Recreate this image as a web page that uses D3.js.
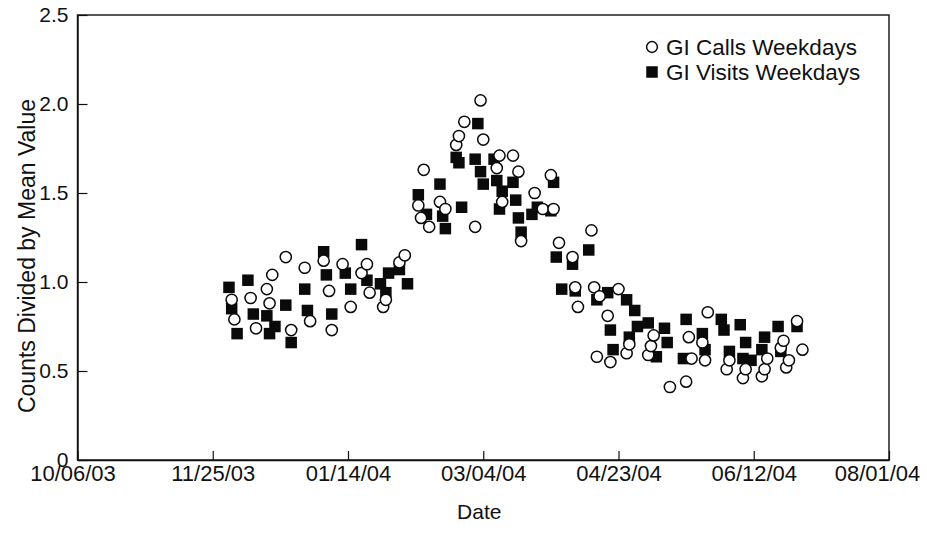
<!DOCTYPE html>
<html>
<head>
<meta charset="utf-8">
<script src="https://cdn.jsdelivr.net/npm/d3@7/dist/d3.min.js"></script>
<style>
  html, body { margin: 0; padding: 0; background: #fff; }
  svg text { font-family: "Liberation Sans", Arial, Helvetica, sans-serif; fill: #111; }
</style>
</head>
<body>
<svg id="chart" width="927" height="548"></svg>
<script>
// GI calls, weekdays: date and count divided by mean value
const callDates = [
  "2003-12-02","2003-12-03","2003-12-09","2003-12-11","2003-12-15","2003-12-16","2003-12-17",
  "2003-12-22","2003-12-24","2003-12-29","2003-12-31","2004-01-05","2004-01-07","2004-01-08",
  "2004-01-12","2004-01-15","2004-01-19","2004-01-21","2004-01-22","2004-01-27","2004-01-28",
  "2004-02-02","2004-02-04","2004-02-09","2004-02-10","2004-02-11","2004-02-13","2004-02-17",
  "2004-02-19","2004-02-23","2004-02-24","2004-02-26","2004-03-01","2004-03-03","2004-03-04",
  "2004-03-09","2004-03-10","2004-03-11","2004-03-15","2004-03-17","2004-03-18","2004-03-23",
  "2004-03-26","2004-03-29","2004-03-30","2004-04-01","2004-04-06","2004-04-07","2004-04-08",
  "2004-04-13","2004-04-14","2004-04-15","2004-04-16","2004-04-19","2004-04-20","2004-04-23",
  "2004-04-26","2004-04-27","2004-05-04","2004-05-05","2004-05-06","2004-05-12","2004-05-18",
  "2004-05-19","2004-05-20","2004-05-24","2004-05-25","2004-05-26","2004-06-02","2004-06-03",
  "2004-06-08","2004-06-09","2004-06-15","2004-06-16","2004-06-17","2004-06-22","2004-06-23",
  "2004-06-24","2004-06-25","2004-06-28","2004-06-30"
];
const callValues = [
  0.90,0.79,0.91,0.74,0.96,0.88,1.04,
  1.14,0.73,1.08,0.78,1.12,0.95,0.73,
  1.10,0.86,1.05,1.10,0.94,0.86,0.90,
  1.11,1.15,1.43,1.36,1.63,1.31,1.45,
  1.41,1.77,1.82,1.90,1.31,2.02,1.80,
  1.64,1.71,1.45,1.71,1.62,1.23,1.50,
  1.41,1.60,1.41,1.22,1.14,0.97,0.86,
  1.29,0.97,0.58,0.92,0.81,0.55,0.96,
  0.60,0.65,0.59,0.64,0.70,0.41,0.44,
  0.69,0.57,0.66,0.56,0.83,0.51,0.56,
  0.46,0.51,0.47,0.51,0.57,0.63,0.67,
  0.52,0.56,0.78,0.62
];

// GI visits, weekdays
const visitDates = [
  "2003-12-01","2003-12-02","2003-12-04","2003-12-08","2003-12-10","2003-12-15","2003-12-16",
  "2003-12-18","2003-12-22","2003-12-24","2003-12-29","2003-12-30","2004-01-05","2004-01-06",
  "2004-01-08","2004-01-13","2004-01-15","2004-01-19","2004-01-21","2004-01-26","2004-01-28",
  "2004-01-29","2004-02-02","2004-02-05","2004-02-09","2004-02-12","2004-02-17","2004-02-18",
  "2004-02-19","2004-02-23","2004-02-24","2004-02-25","2004-03-01","2004-03-02","2004-03-03",
  "2004-03-04","2004-03-08","2004-03-09","2004-03-10","2004-03-11","2004-03-15","2004-03-16",
  "2004-03-17","2004-03-18","2004-03-22","2004-03-24","2004-03-29","2004-03-30","2004-03-31",
  "2004-04-02","2004-04-06","2004-04-07","2004-04-12","2004-04-15","2004-04-19","2004-04-20",
  "2004-04-21","2004-04-26","2004-04-27","2004-04-29","2004-04-30","2004-05-04","2004-05-07",
  "2004-05-10","2004-05-11","2004-05-17","2004-05-18","2004-05-24","2004-05-25","2004-05-31",
  "2004-06-01","2004-06-03","2004-06-07","2004-06-08","2004-06-09","2004-06-11","2004-06-15",
  "2004-06-16","2004-06-21","2004-06-22","2004-06-28"
];
const visitValues = [
  0.97,0.85,0.71,1.01,0.82,0.81,0.71,
  0.75,0.87,0.66,0.96,0.84,1.17,1.04,
  0.82,1.05,0.96,1.21,1.01,0.99,0.94,
  1.05,1.07,0.99,1.49,1.38,1.55,1.37,
  1.30,1.70,1.67,1.42,1.69,1.89,1.62,
  1.55,1.69,1.57,1.41,1.51,1.56,1.46,
  1.36,1.28,1.38,1.42,1.40,1.56,1.14,
  0.96,1.10,0.95,1.18,0.90,0.94,0.73,
  0.62,0.90,0.69,0.84,0.75,0.77,0.58,
  0.74,0.66,0.57,0.79,0.71,0.62,0.79,
  0.73,0.61,0.76,0.57,0.66,0.56,0.62,
  0.69,0.75,0.61,0.75
];

// Axis ticks
const xTickDates = ["2003-10-06","2003-11-25","2004-01-14","2004-03-04","2004-04-23","2004-06-12","2004-08-01"];
const yTickValues = [0, 0.5, 1.0, 1.5, 2.0, 2.5];
const seriesNames = ["GI Calls Weekdays", "GI Visits Weekdays"];

const parse = d3.timeParse("%Y-%m-%d");
const calls = callDates.map((d, i) => ({ date: parse(d), value: callValues[i] }));
const visits = visitDates.map((d, i) => ({ date: parse(d), value: visitValues[i] }));
const xTicks = xTickDates.map(parse);

const svg = d3.select("#chart");
const plotL = 77.5, plotR = 889, plotT = 15, plotB = 460;

const x = d3.scaleTime()
  .domain([xTicks[0], xTicks[xTicks.length - 1]])
  .range([plotL, plotR]);
const y = d3.scaleLinear()
  .domain([0, 2.5])
  .range([plotB, plotT]);

// plot frame
svg.append("rect")
  .attr("x", plotL).attr("y", plotT)
  .attr("width", plotR - plotL).attr("height", plotB - plotT)
  .attr("fill", "none").attr("stroke", "#111").attr("stroke-width", 1.4);

const fmtX = d3.timeFormat("%m/%d/%y");
const xAxis = d3.axisBottom(x)
  .tickValues(xTicks)
  .tickFormat(fmtX)
  .tickSizeInner(-9).tickSizeOuter(0).tickPadding(5);
const gx = svg.append("g").attr("transform", `translate(0,${plotB})`).call(xAxis);
gx.select(".domain").attr("stroke", "#111").attr("stroke-width", 1.4);
gx.selectAll(".tick line").attr("stroke", "#111").attr("stroke-width", 1.2);
const lastTick = xTicks.length - 1;
gx.selectAll(".tick text").attr("font-size", 22).attr("fill", "#111")
  .style("font-family", "'Liberation Sans', Arial, sans-serif")
  // the end labels are nudged inward so they stay on the page
  .attr("x", (d, i) => i === 0 ? -5 : i === lastTick ? -12 : 0);

const yAxis = d3.axisLeft(y)
  .tickValues(yTickValues)
  .tickFormat(d => d === 0 ? "0" : d3.format(".1f")(d))
  .tickSizeInner(-10).tickSizeOuter(0).tickPadding(9);
const gy = svg.append("g").attr("transform", `translate(${plotL},0)`).call(yAxis);
gy.select(".domain").attr("stroke", "#111").attr("stroke-width", 1.4);
gy.selectAll(".tick line").attr("stroke", "#111").attr("stroke-width", 1.2);
gy.selectAll(".tick text").attr("font-size", 21).attr("fill", "#111")
  .style("font-family", "'Liberation Sans', Arial, sans-serif");

// axis titles
svg.append("text")
  .attr("x", (plotL + plotR) / 2 - 4).attr("y", 519)
  .attr("text-anchor", "middle").attr("font-size", 21)
  .text("Date");
svg.append("text")
  .attr("transform", "translate(35,256) rotate(-90)")
  .attr("text-anchor", "middle").attr("font-size", 23)
  .text("Counts Divided by Mean Value");

// visits: filled squares, drawn beneath the call circles
const sq = 11.5;
svg.append("g").selectAll("rect")
  .data(visits).join("rect")
  .attr("x", d => x(d.date) - sq / 2)
  .attr("y", d => y(d.value) - sq / 2)
  .attr("width", sq).attr("height", sq)
  .attr("fill", "#0a0a0a");

// calls: open circles
svg.append("g").selectAll("circle")
  .data(calls).join("circle")
  .attr("cx", d => x(d.date))
  .attr("cy", d => y(d.value))
  .attr("r", 5.6)
  .attr("fill", "#fff").attr("stroke", "#0a0a0a").attr("stroke-width", 1.5);

// legend
const lg = svg.append("g");
lg.append("circle").attr("cx", 652).attr("cy", 47).attr("r", 5.4)
  .attr("fill", "#fff").attr("stroke", "#0a0a0a").attr("stroke-width", 1.5);
lg.append("rect").attr("x", 652 - sq / 2).attr("y", 72 - sq / 2)
  .attr("width", sq).attr("height", sq).attr("fill", "#0a0a0a");
lg.selectAll("text").data(seriesNames).join("text")
  .attr("x", 666).attr("y", (d, i) => 47 + i * 25)
  .attr("dy", "0.36em").attr("font-size", 22.5)
  .text(d => d);
</script>
</body>
</html>
